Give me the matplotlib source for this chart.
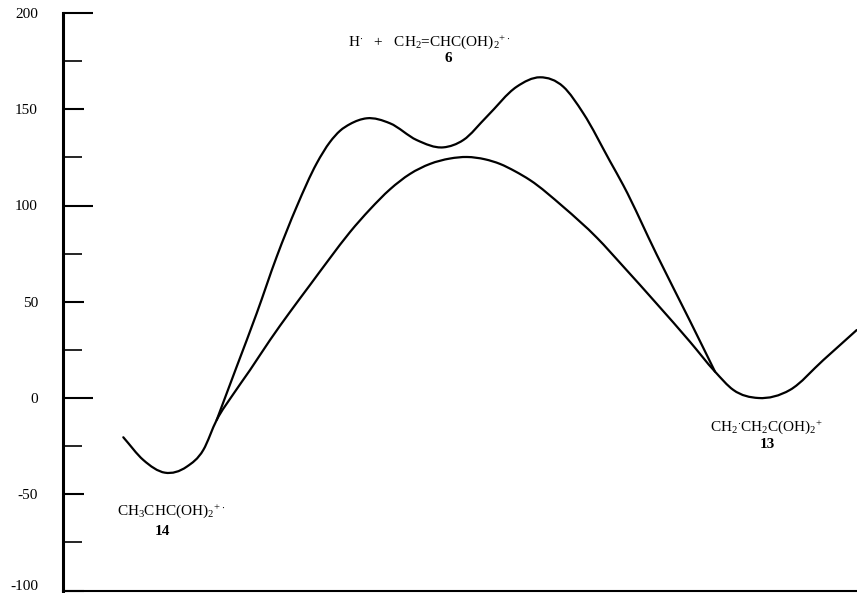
import numpy as np
import matplotlib
matplotlib.use("Agg")
import matplotlib.pyplot as plt
from matplotlib.path import Path
from matplotlib.patches import PathPatch
from matplotlib.ticker import MultipleLocator
from matplotlib.transforms import ScaledTranslation

plt.rcParams['font.family'] = ['Liberation Serif', 'DejaVu Serif']
plt.rcParams['mathtext.fontset'] = 'custom'
plt.rcParams['mathtext.rm'] = 'Liberation Serif'
plt.rcParams['mathtext.it'] = 'Liberation Serif:italic'
plt.rcParams['mathtext.bf'] = 'Liberation Serif:bold'
plt.rcParams['axes.unicode_minus'] = False

# reaction coordinate (arbitrary units) and energy (kJ/mol)
rc_lower = [123.3, 143.3, 165.0, 186.7, 203.3, 216.7, 233.0, 250.0, 270.0, 290.0,
            310.0, 330.0, 350.0, 370.0, 390.0, 410.0, 430.0, 450.0, 467.0, 485.0,
            500.0, 515.0, 530.0, 563.0, 597.0, 623.0, 657.0, 690.0, 715.0, 733.3,
            758.3, 790.0, 823.3, 856.7]
e_lower = [-20.4, -32.2, -38.8, -35.7, -27.0, -11.4, 1.8, 14.5, 30.1, 44.7,
           58.7, 72.7, 86.2, 98.0, 108.4, 116.4, 121.6, 124.4, 125.2, 124.0,
           121.6, 117.8, 113.2, 99.4, 83.2, 68.5, 48.8, 29.2, 13.7, 4.2,
           0.0, 4.2, 19.7, 35.3]

# upper path (via H + 6), branches off the lower one and rejoins it
rc_upper = [216.7, 236.7, 256.7, 276.7, 296.7, 316.7, 330.0, 340.0, 350.0, 366.7,
            390.0, 416.7, 443.3, 463.3, 486.7, 516.7, 540.0, 563.3, 583.3, 610.0,
            623.3, 656.7, 690.0, 715.0]
e_upper = [-11.4, 16.3, 44.0, 73.4, 99.4, 121.9, 133.0, 138.8, 142.3, 145.3,
           142.7, 134.0, 130.2, 134.0, 146.1, 161.7, 166.6, 161.7, 147.9, 123.0,
           110.5, 74.5, 40.0, 13.7]


def smooth_path(xs, ys):
    # cubic Hermite pieces through the read points, drawn as Bezier curves
    x = np.asarray(xs, float)
    y = np.asarray(ys, float)
    h = np.diff(x)
    d = np.diff(y) / h
    m = np.empty(len(x))
    m[0], m[-1] = d[0], d[-1]
    m[1:-1] = (h[:-1] * d[1:] + h[1:] * d[:-1]) / (h[:-1] + h[1:])
    verts = [(x[0], y[0])]
    codes = [Path.MOVETO]
    for i in range(len(x) - 1):
        s = h[i] / 3.0
        verts += [(x[i] + s, y[i] + m[i] * s),
                  (x[i + 1] - s, y[i + 1] - m[i + 1] * s),
                  (x[i + 1], y[i + 1])]
        codes += [Path.CURVE4] * 3
    return Path(verts, codes)


fig = plt.figure(figsize=(8.57, 5.93), dpi=100)
ax = fig.add_axes([63/857, 2.5/593, 794/857, 577.5/593])

for xs, ys in [(rc_lower, e_lower), (rc_upper, e_upper)]:
    ax.add_patch(PathPatch(smooth_path(xs, ys), facecolor='none',
                           edgecolor='black', lw=1.6, capstyle='round'))

ax.set_xlim(63, 857)
ax.set_ylim(-100, 200)
ax.set_xticks([])
ax.yaxis.set_major_locator(MultipleLocator(50))
ax.yaxis.set_minor_locator(MultipleLocator(25))
ax.tick_params(axis='y', which='major', direction='in', length=15, width=1.5,
               pad=18, labelsize=11)
ax.tick_params(axis='y', which='minor', direction='in', length=14, width=1.2)
ax.set_yticks([-100, -50, 0, 50, 100, 150, 200])
# the 0, 100, 200 marks are drawn longer
for t, v in zip(ax.yaxis.get_major_ticks(), ax.get_yticks()):
    if v in (0, 100, 200):
        t.tick1line.set_markersize(21.5)
    if v == -100:
        t.label1.set_transform(t.label1.get_transform() +
                               ScaledTranslation(0, 5/100, fig.dpi_scale_trans))

ax.spines['top'].set_visible(False)
ax.spines['right'].set_visible(False)
ax.spines['left'].set_linewidth(2.2)
ax.spines['bottom'].set_linewidth(1.5)

ax.text(348, 185, r'H$^{\cdot}$   +   CH$_2$=CHC(OH)$_2$$^{+\cdot}$', fontsize=11,
        ha='left', va='center')
ax.text(448, 176.5, '6', fontsize=11, fontweight='bold', ha='center', va='center')
ax.text(117, -59, r'CH$_3$CHC(OH)$_2$$^{+\cdot}$', fontsize=11, ha='left', va='center')
ax.text(162, -69.5, '14', fontsize=11, fontweight='bold', ha='center', va='center')
ax.text(710, -15, r'CH$_2$$^{\cdot}$CH$_2$C(OH)$_2$$^{+}$', fontsize=11,
        ha='left', va='center')
ax.text(767, -24, '13', fontsize=11, fontweight='bold', ha='center', va='center')

fig.savefig('out.png', dpi=100)
